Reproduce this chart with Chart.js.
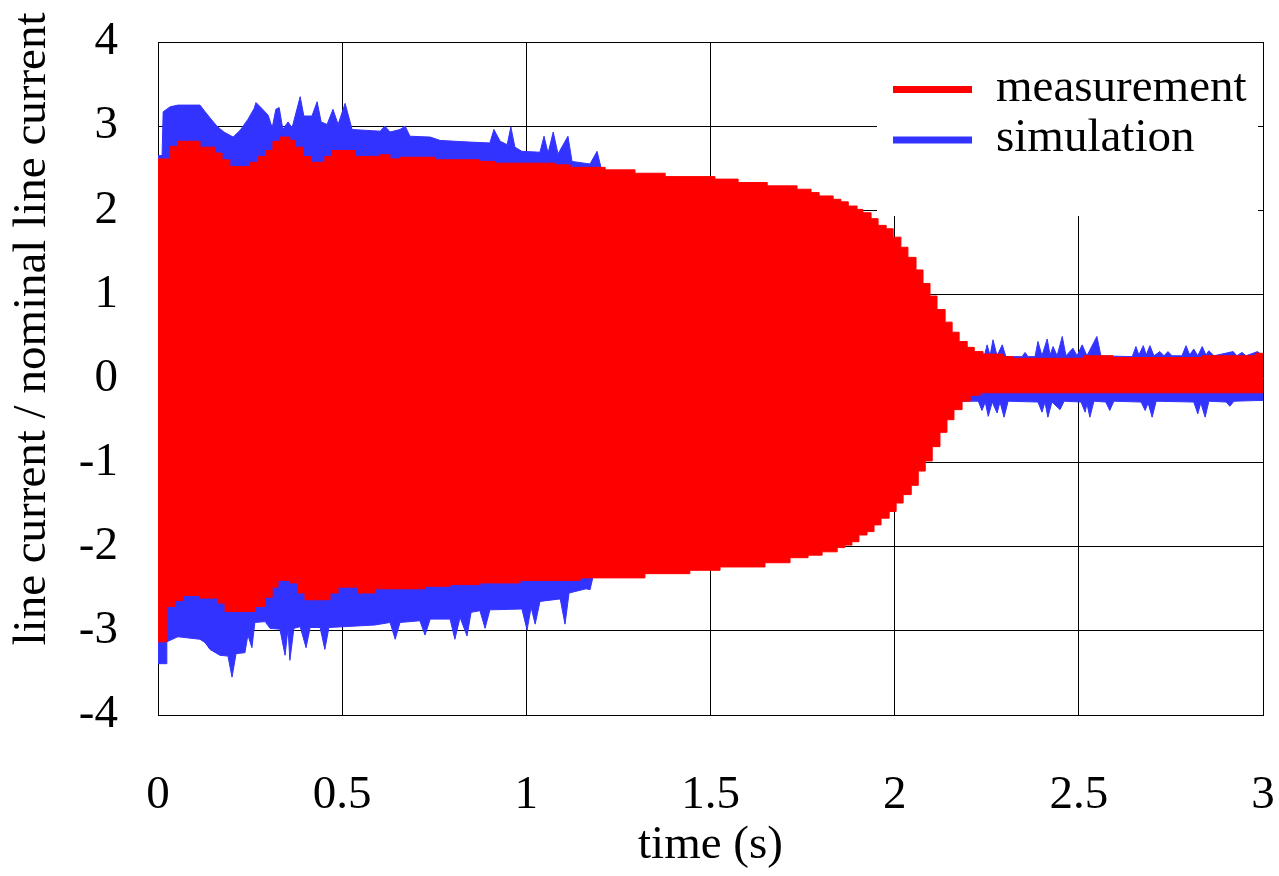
<!DOCTYPE html>
<html>
<head>
<meta charset="utf-8">
<script src="https://cdn.jsdelivr.net/npm/chart.js@4.4.1/dist/chart.umd.min.js"></script>
<style>
  html, body { margin: 0; padding: 0; background: #fff; }
  #wrap { width: 1279px; height: 876px; }
</style>
</head>
<body>
<div id="wrap"><canvas id="c" width="1279" height="876"></canvas></div>
<script>
// ---- data (envelopes of the oscillating line current) ----
const seriesNames = ['measurement', 'simulation'];
const xTicks = [0, 0.5, 1, 1.5, 2, 2.5, 3];
const yTicks = [-4, -3, -2, -1, 0, 1, 2, 3, 4];
const xLabel = 'time (s)';
const yLabel = 'line current / nominal line current';

// measurement: upper envelope (stepped)
const measUpperT = [0.000,0.033,0.054,0.114,0.155,0.174,0.195,0.250,0.272,0.293,0.312,0.331,0.358,0.372,0.394,0.415,0.453,0.472,0.535,0.603,0.630,0.657,0.752,0.874,0.915,1.078,1.119,1.214,1.295,1.377,1.512,1.575,1.654,1.735,1.773,1.795,1.833,1.854,1.874,1.898,1.914,1.936,1.955,1.977,1.996,2.017,2.036,2.058,2.077,2.096,2.115,2.137,2.156,2.175,2.197,2.216,2.240,2.294,2.322,2.512,2.593,2.835,2.979,3.000];
const measUpperV = [2.61,2.76,2.82,2.75,2.68,2.60,2.52,2.57,2.64,2.71,2.82,2.87,2.83,2.75,2.64,2.57,2.64,2.71,2.64,2.66,2.61,2.63,2.60,2.58,2.56,2.54,2.51,2.48,2.44,2.40,2.37,2.33,2.29,2.25,2.21,2.17,2.13,2.10,2.05,2.01,1.97,1.90,1.82,1.78,1.68,1.56,1.44,1.29,1.13,0.98,0.82,0.67,0.55,0.44,0.37,0.32,0.29,0.26,0.24,0.27,0.25,0.27,0.30,0.30];
// measurement: lower envelope (stepped)
const measLowerT = [0.000,0.024,0.046,0.068,0.114,0.163,0.182,0.263,0.291,0.310,0.326,0.358,0.380,0.399,0.467,0.489,0.543,0.589,0.725,0.793,0.874,0.983,1.146,1.322,1.444,1.526,1.648,1.716,1.765,1.803,1.844,1.865,1.884,1.903,1.925,1.944,1.963,1.985,2.004,2.023,2.045,2.064,2.083,2.102,2.123,2.142,2.161,2.183,2.205,2.232,3.000];
const measLowerV = [-3.13,-2.71,-2.64,-2.58,-2.61,-2.67,-2.77,-2.71,-2.60,-2.48,-2.40,-2.43,-2.55,-2.63,-2.55,-2.48,-2.55,-2.50,-2.47,-2.45,-2.43,-2.40,-2.37,-2.32,-2.28,-2.24,-2.19,-2.13,-2.10,-2.06,-2.01,-1.98,-1.94,-1.86,-1.82,-1.74,-1.66,-1.58,-1.48,-1.38,-1.27,-1.10,-0.98,-0.81,-0.64,-0.49,-0.37,-0.27,-0.20,-0.17,-0.17];

// simulation: upper envelope
const simUpperT = [0.000,0.011,0.014,0.033,0.054,0.114,0.128,0.141,0.160,0.179,0.204,0.223,0.244,0.261,0.266,0.282,0.299,0.310,0.320,0.329,0.339,0.353,0.364,0.386,0.396,0.418,0.432,0.443,0.459,0.475,0.489,0.508,0.527,0.603,0.616,0.630,0.657,0.671,0.684,0.739,0.766,0.847,0.901,0.912,0.929,0.948,0.958,0.969,0.988,1.037,1.048,1.059,1.073,1.086,1.113,1.124,1.173,1.192,1.206,1.472,1.743,1.879,2.015,2.096,2.150,2.191,2.218,2.243,2.251,2.259,2.267,2.278,2.292,2.302,2.346,2.354,2.362,2.381,2.389,2.400,2.414,2.422,2.430,2.441,2.455,2.465,2.484,2.495,2.509,2.522,2.549,2.560,2.645,2.655,2.663,2.675,2.683,2.693,2.704,2.720,2.731,2.742,2.753,2.780,2.791,2.801,2.812,2.823,2.835,2.845,2.853,2.867,2.919,2.929,2.943,2.954,2.985,3.000];
const simUpperV = [2.65,2.65,3.17,3.23,3.25,3.25,3.17,3.10,3.00,2.93,2.87,2.95,3.08,3.21,3.28,3.21,3.13,2.98,3.20,3.22,2.96,3.05,2.98,3.35,3.12,3.12,3.29,3.05,3.02,3.20,3.02,3.27,2.96,2.94,3.00,2.93,2.96,3.00,2.88,2.87,2.83,2.81,2.80,2.96,2.82,2.78,2.99,2.75,2.70,2.69,2.88,2.68,2.93,2.67,2.88,2.58,2.55,2.70,2.45,2.35,2.20,2.00,1.50,0.95,0.50,0.30,0.26,0.26,0.40,0.27,0.46,0.27,0.40,0.26,0.26,0.31,0.26,0.26,0.44,0.27,0.47,0.28,0.38,0.27,0.50,0.27,0.36,0.27,0.40,0.27,0.50,0.27,0.26,0.38,0.28,0.39,0.28,0.39,0.27,0.32,0.27,0.32,0.27,0.27,0.39,0.28,0.35,0.27,0.38,0.28,0.33,0.27,0.32,0.27,0.31,0.27,0.32,0.27];
// simulation: lower envelope
const simLowerT = [0.000,0.022,0.024,0.054,0.114,0.128,0.141,0.168,0.190,0.201,0.212,0.236,0.244,0.255,0.263,0.291,0.304,0.331,0.345,0.353,0.358,0.369,0.386,0.402,0.413,0.440,0.453,0.464,0.589,0.630,0.644,0.657,0.711,0.725,0.739,0.793,0.806,0.820,0.839,0.850,0.874,0.888,0.901,0.988,1.002,1.013,1.024,1.037,1.092,1.105,1.116,1.162,1.173,1.184,1.472,1.743,1.879,2.015,2.096,2.150,2.183,2.227,2.237,2.246,2.254,2.265,2.278,2.286,2.297,2.308,2.389,2.400,2.408,2.416,2.427,2.449,2.460,2.506,2.517,2.522,2.530,2.541,2.573,2.584,2.595,2.669,2.680,2.688,2.699,2.710,2.812,2.823,2.831,2.843,2.853,2.900,2.910,2.921,3.000];
const simLowerV = [-3.39,-3.39,-3.13,-3.07,-3.10,-3.14,-3.22,-3.29,-3.30,-3.55,-3.27,-3.26,-3.05,-3.20,-2.90,-2.89,-2.97,-2.98,-3.29,-2.97,-3.35,-2.97,-2.95,-3.20,-2.96,-2.96,-3.22,-2.96,-2.93,-2.90,-3.10,-2.90,-2.88,-3.05,-2.86,-2.86,-3.10,-2.84,-3.06,-2.78,-2.76,-2.97,-2.75,-2.74,-2.99,-2.72,-2.92,-2.65,-2.62,-2.92,-2.55,-2.50,-2.51,-2.30,-2.20,-2.05,-1.90,-1.30,-0.75,-0.35,-0.27,-0.27,-0.38,-0.28,-0.45,-0.28,-0.41,-0.28,-0.46,-0.27,-0.28,-0.40,-0.28,-0.46,-0.28,-0.37,-0.27,-0.28,-0.40,-0.30,-0.46,-0.27,-0.28,-0.38,-0.27,-0.28,-0.38,-0.29,-0.46,-0.27,-0.28,-0.42,-0.29,-0.46,-0.27,-0.28,-0.33,-0.27,-0.26];

// ---- styles ----
const RED = '#ff0000';
const BLUE = '#3333ff';
const FONT = 'Liberation Serif, Times New Roman, serif';
const FS = 47;

const pts = (t, v) => t.map((x, i) => ({ x: x, y: v[i] }));

const overlay = {
  id: 'overlay',
  beforeDatasetsDraw(chart) {
    const { ctx, chartArea: a } = chart;
    ctx.save();
    ctx.fillStyle = '#ffffff';
    ctx.fillRect(a.right - 386, a.top + 1, 381, 173);
    ctx.restore();
  },
  afterDatasetsDraw(chart) {
    const { ctx, chartArea: a } = chart;
    ctx.save();
    const colors = [RED, BLUE];
    const lineY = [a.top + 47.5, a.top + 98];
    ctx.font = FS + 'px ' + FONT;
    ctx.textAlign = 'left';
    ctx.textBaseline = 'alphabetic';
    for (let i = 0; i < seriesNames.length; i++) {
      ctx.strokeStyle = colors[i];
      ctx.lineWidth = 7;
      ctx.beginPath();
      ctx.moveTo(a.right - 370, lineY[i]);
      ctx.lineTo(a.right - 291, lineY[i]);
      ctx.stroke();
      ctx.fillStyle = '#000';
      ctx.fillText(seriesNames[i], a.right - 267, lineY[i] + 11);
    }
    // y-axis title
    ctx.translate(33, 329);
    ctx.rotate(-Math.PI / 2);
    ctx.textAlign = 'center';
    ctx.textBaseline = 'middle';
    ctx.fillText(yLabel, 0, 0);
    ctx.restore();
  }
};

Chart.defaults.font.family = FONT;
Chart.defaults.font.size = FS;
Chart.defaults.color = '#000';

const zeroPad = s => { s.paddingLeft = 0; s.paddingRight = 0; s.paddingTop = 0; s.paddingBottom = 0; };
// lower envelopes are filled slightly past zero so both halves overlap (no seam)
const LOWER_FILL = { value: 0.05 };

new Chart(document.getElementById('c'), {
  type: 'line',
  data: {
    datasets: [
      { label: seriesNames[0], data: pts(measUpperT, measUpperV), stepped: 'before', fill: 'origin',
        backgroundColor: RED, borderColor: RED, borderWidth: 1, pointRadius: 0 },
      { label: seriesNames[0], data: pts(measLowerT, measLowerV), stepped: 'before', fill: LOWER_FILL,
        backgroundColor: RED, borderColor: RED, borderWidth: 1, pointRadius: 0 },
      { label: seriesNames[1], data: pts(simUpperT, simUpperV), fill: 'origin', tension: 0,
        backgroundColor: BLUE, borderColor: BLUE, borderWidth: 1, pointRadius: 0 },
      { label: seriesNames[1], data: pts(simLowerT, simLowerV), fill: LOWER_FILL, tension: 0,
        backgroundColor: BLUE, borderColor: BLUE, borderWidth: 1, pointRadius: 0 }
    ]
  },
  options: {
    responsive: false,
    animation: false,
    layout: { padding: { left: 0, top: 42, right: 16, bottom: 0 } },
    plugins: { legend: { display: false }, tooltip: { enabled: false } },
    scales: {
      x: {
        type: 'linear', min: 0, max: 3,
        afterBuildTicks: s => { s.ticks = xTicks.map(v => ({ value: v })); },
        afterFit: s => { s.height = 161; zeroPad(s); },
        ticks: { padding: 52, maxRotation: 0, autoSkip: false, callback: v => String(v) },
        grid: { color: '#000', lineWidth: 1, drawTicks: false },
        border: { color: '#000', width: 1 },
        title: { display: true, text: xLabel, padding: { top: 0, bottom: 2 } }
      },
      y: {
        type: 'linear', min: -4, max: 4,
        afterBuildTicks: s => { s.ticks = yTicks.map(v => ({ value: v })); },
        afterFit: s => { s.width = 158; zeroPad(s); },
        ticks: { padding: 40, callback: v => String(v) },
        grid: { color: '#000', lineWidth: 1, drawTicks: false },
        border: { color: '#000', width: 1 }
      }
    }
  },
  plugins: [overlay]
});
</script>
</body>
</html>
